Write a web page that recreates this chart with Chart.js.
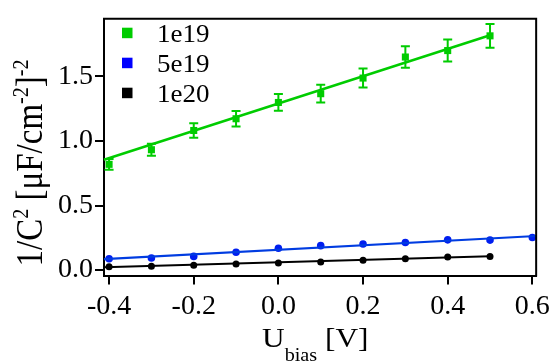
<!DOCTYPE html>
<html>
<head>
<meta charset="utf-8">
<script src="https://cdn.jsdelivr.net/npm/chart.js@4.4.1/dist/chart.umd.min.js"></script>
<style>
  html, body { margin: 0; padding: 0; background: #fff; }
  canvas { display: block; }
</style>
</head>
<body>
<canvas id="c" width="555" height="362"></canvas>
<script>
// Bias voltages [V]
const biasV = [-0.4, -0.3, -0.2, -0.1, 0.0, 0.1, 0.2, 0.3, 0.4, 0.5];
const biasV5e19 = [-0.4, -0.3, -0.2, -0.1, 0.0, 0.1, 0.2, 0.3, 0.4, 0.5, 0.6];

// 1/C^2 values [(uF/cm^2)^-2] for each doping level
const inv1e19 = [0.819, 0.932, 1.081, 1.172, 1.298, 1.366, 1.487, 1.650, 1.700, 1.814];
const err1e19 = [0.042, 0.046, 0.056, 0.060, 0.065, 0.069, 0.074, 0.083, 0.085, 0.092];
const inv5e19 = [0.088, 0.093, 0.106, 0.138, 0.169, 0.189, 0.202, 0.214, 0.234, 0.232, 0.252];
const inv1e20 = [0.025, 0.030, 0.038, 0.048, 0.055, 0.063, 0.076, 0.088, 0.101, 0.106];

// Linear fits (end points)
const fitX1e19 = [-0.412, 0.5];
const fitY1e19 = [0.854, 1.819];
const fitX5e19 = [-0.412, 0.609];
const fitY5e19 = [0.085, 0.264];
const fitX1e20 = [-0.412, 0.5];
const fitY1e20 = [0.022, 0.107];

// Tick values and labels
const xTickValues = [-0.4, -0.2, 0.0, 0.2, 0.4, 0.6];
const xTickLabels = ['-0.4', '-0.2', '0.0', '0.2', '0.4', '0.6'];
const yTickValues = [0.0, 0.5, 1.0, 1.5];
const yTickLabels = ['0.0', '0.5', '1.0', '1.5'];

// Legend entries
const seriesNames = ['1e19', '5e19', '1e20'];

const GREEN = 'rgb(0,204,0)';
const BLUE_MARK = 'rgb(0,30,240)';
const BLUE_LINE = 'rgb(0,60,225)';
const BLACK = '#000';
const SERIF = '"Liberation Serif", "Times New Roman", serif';

const pts = (xs, ys) => xs.map((x, i) => ({ x: x, y: ys[i] }));

// Error bars for the 1e19 series
const errorBars = {
  id: 'errorBars',
  afterDatasetsDraw(chart) {
    const ctx = chart.ctx, xs = chart.scales.x, ys = chart.scales.y;
    ctx.save();
    ctx.strokeStyle = GREEN;
    ctx.lineWidth = 2;
    biasV.forEach((v, i) => {
      const px = xs.getPixelForValue(v);
      const top = ys.getPixelForValue(inv1e19[i] + err1e19[i]);
      const bot = ys.getPixelForValue(inv1e19[i] - err1e19[i]);
      ctx.beginPath();
      ctx.moveTo(px, top); ctx.lineTo(px, bot);
      ctx.moveTo(px - 4.5, top); ctx.lineTo(px + 4.5, top);
      ctx.moveTo(px - 4.5, bot); ctx.lineTo(px + 4.5, bot);
      ctx.stroke();
    });
    ctx.restore();
  }
};

// Draws a run of text pieces with super/subscripts
function drawRuns(ctx, runs, x, y) {
  let cx = x;
  runs.forEach(r => {
    ctx.font = r.size + 'px ' + SERIF;
    ctx.fillText(r.t, cx, y + (r.dy || 0));
    cx += ctx.measureText(r.t).width;
  });
}
function runsWidth(ctx, runs) {
  let w = 0;
  runs.forEach(r => { ctx.font = r.size + 'px ' + SERIF; w += ctx.measureText(r.t).width; });
  return w;
}

// Frame, axis titles and legend
const decorations = {
  id: 'decorations',
  afterDraw(chart) {
    const ctx = chart.ctx, a = chart.chartArea;
    ctx.save();
    // top and right edges of the frame
    ctx.strokeStyle = '#000';
    ctx.lineWidth = 2;
    ctx.beginPath();
    ctx.moveTo(a.left - 1, a.top);
    ctx.lineTo(a.right, a.top);
    ctx.lineTo(a.right, a.bottom + 1);
    ctx.stroke();

    ctx.fillStyle = '#000';
    ctx.textBaseline = 'alphabetic';
    ctx.textAlign = 'left';

    // y title
    const yRuns = [
      { t: '1/C', size: 33 }, { t: '2', size: 20, dy: -12 },
      { t: ' [\u03bcF/cm', size: 33 }, { t: '-2', size: 20, dy: -12 },
      { t: ']', size: 33 }, { t: '-2', size: 20, dy: -12 }
    ];
    ctx.save();
    ctx.translate(42, 163);
    ctx.scale(1.15, 1);
    ctx.rotate(-Math.PI / 2);
    drawRuns(ctx, yRuns, -runsWidth(ctx, yRuns) / 2, 0);
    ctx.restore();

    // x title
    ctx.save();
    ctx.translate(262, 0);
    ctx.scale(1.12, 1);
    drawRuns(ctx, [{ t: 'U', size: 28 }], 0, 346.5);
    ctx.font = '28px ' + SERIF;
    const uw = ctx.measureText('U').width;
    drawRuns(ctx, [{ t: 'bias', size: 18 }], uw, 361);
    ctx.font = '18px ' + SERIF;
    const bw = ctx.measureText('bias').width;
    drawRuns(ctx, [{ t: ' [V]', size: 28 }], uw + bw, 346.5);
    ctx.restore();

    // legend
    const colors = [GREEN, 'rgb(0,0,255)', BLACK];
    const baselines = [41.7, 71.7, 101.7];
    seriesNames.forEach((name, i) => {
      ctx.fillStyle = colors[i];
      ctx.fillRect(122, baselines[i] - 14, 10.5, 10.5);
      ctx.fillStyle = '#000';
      ctx.save();
      ctx.translate(157, baselines[i]);
      ctx.scale(1.08, 1);
      ctx.font = '25px ' + SERIF;
      ctx.fillText(name, 0, 0);
      ctx.restore();
    });
    ctx.restore();
  }
};

new Chart(document.getElementById('c'), {
  type: 'scatter',
  data: {
    datasets: [
      { data: pts(fitX1e19, fitY1e19), showLine: true, borderColor: GREEN, borderWidth: 2.5, pointRadius: 0 },
      { data: pts(fitX5e19, fitY5e19), showLine: true, borderColor: BLUE_LINE, borderWidth: 2.2, pointRadius: 0 },
      { data: pts(fitX1e20, fitY1e20), showLine: true, borderColor: BLACK, borderWidth: 2, pointRadius: 0 },
      { label: seriesNames[0], data: pts(biasV, inv1e19), pointStyle: 'rect', pointRadius: 5,
        backgroundColor: GREEN, borderColor: GREEN, borderWidth: 0 },
      { label: seriesNames[1], data: pts(biasV5e19, inv5e19), pointStyle: 'circle', pointRadius: 3.8,
        backgroundColor: BLUE_MARK, borderColor: BLUE_MARK, borderWidth: 0 },
      { label: seriesNames[2], data: pts(biasV, inv1e20), pointStyle: 'circle', pointRadius: 3.5,
        backgroundColor: BLACK, borderColor: BLACK, borderWidth: 0 }
    ]
  },
  options: {
    responsive: false,
    devicePixelRatio: 1,
    animation: false,
    clip: false,
    layout: { padding: { top: 12, right: 17, left: 0, bottom: 0 } },
    plugins: { legend: { display: false }, tooltip: { enabled: false } },
    scales: {
      x: {
        type: 'linear', min: -0.412, max: 0.609,
        afterFit: s => { s.height = 86.5; },
        afterBuildTicks: s => { s.ticks = xTickValues.map(v => ({ value: v })); },
        grid: { drawOnChartArea: false, drawTicks: true, tickLength: 9, color: '#000', lineWidth: 2 },
        border: { display: true, color: '#000', width: 2 },
        ticks: {
          font: { family: SERIF, size: 28 }, color: '#000', padding: 5, maxRotation: 0,
          callback: (v, i) => xTickLabels[i]
        }
      },
      y: {
        type: 'linear', min: -0.042, max: 1.946,
        afterFit: s => { s.width = 104; },
        afterBuildTicks: s => { s.ticks = yTickValues.map(v => ({ value: v })); },
        grid: { drawOnChartArea: false, drawTicks: true, tickLength: 9, color: '#000', lineWidth: 2 },
        border: { display: true, color: '#000', width: 2 },
        ticks: {
          font: { family: SERIF, size: 28 }, color: '#000', padding: 2,
          callback: (v, i) => yTickLabels[i]
        }
      }
    }
  },
  plugins: [errorBars, decorations]
});
</script>
</body>
</html>
